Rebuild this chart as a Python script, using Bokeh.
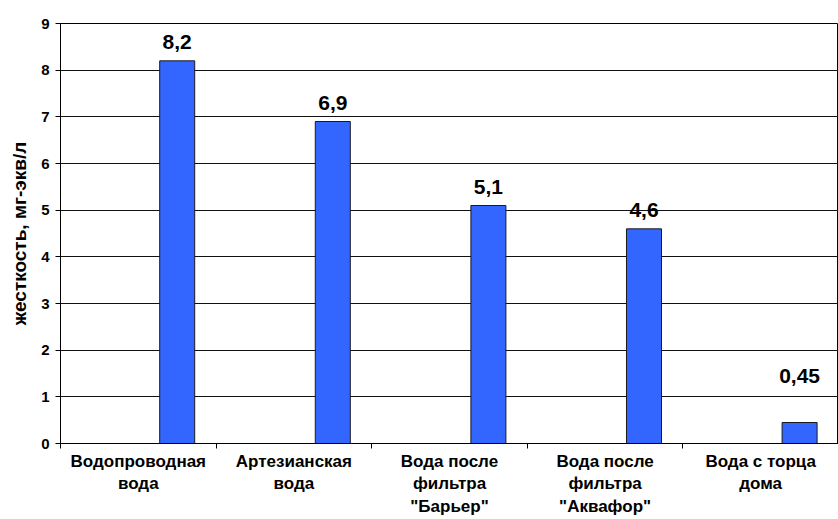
from bokeh.plotting import figure
from bokeh.models import Range1d, FixedTicker, ColumnDataSource
from bokeh.transform import dodge
from bokeh.core.properties import value
from bokeh.embed import file_html
from bokeh.resources import INLINE

# ---- data ----
categories = [
    "Водопроводная\nвода",
    "Артезианская\nвода",
    "Вода после\nфильтра\n\"Барьер\"",
    "Вода после\nфильтра\n\"Аквафор\"",
    "Вода с торца\nдома",
]
hardness = [8.2, 6.9, 5.1, 4.6, 0.45]
value_labels = ["8,2", "6,9", "5,1", "4,6", "0,45"]
y_ticks = [0, 1, 2, 3, 4, 5, 6, 7, 8, 9]
y_title = "жесткость, мг-экв/л"

# ---- style ----
FONT = "Liberation Sans"
BAR_COLOR = "#3366FF"
n = len(categories)
slot = list(range(n))                     # category slot index

# label lifts in screen px (the last label sits higher in the original)
label_lift = [-12, -12, -12, -12, -40]

src = ColumnDataSource(dict(slot=slot, hardness=hardness,
                            label=value_labels, yoff=label_lift))

p = figure(width=838, height=519,
           x_range=Range1d(0, n),
           y_range=Range1d(0, 9),
           output_backend="svg", toolbar_location=None,
           x_axis_location="below", y_axis_location="left",
           min_border_left=60, min_border_right=0,
           min_border_top=23, min_border_bottom=76,
           background_fill_color="white", border_fill_color="white",
           outline_line_color="black", outline_line_width=1)

p.xgrid.visible = False

yt = FixedTicker(ticks=y_ticks)
p.yaxis.ticker = yt
p.ygrid.ticker = yt
p.ygrid.grid_line_color = "#111111"
p.ygrid.grid_line_width = 1

ya = p.yaxis[0]
ya.axis_label = y_title
ya.axis_label_text_font = FONT
ya.axis_label_text_font_style = "bold"
ya.axis_label_text_font_size = "19px"
ya.axis_label_text_color = "black"
ya.axis_label_standoff = 8
ya.major_label_text_font = FONT
ya.major_label_text_font_style = "bold"
ya.major_label_text_font_size = "15px"
ya.major_label_text_color = "black"
ya.major_label_standoff = 6
ya.major_tick_out = 5
ya.major_tick_in = 0
ya.minor_tick_line_color = None
ya.axis_line_color = "black"
ya.major_tick_line_color = "black"

# bottom axis: ticks at slot boundaries, labels at slot centres
centers = [s + 0.5 for s in slot]
xa = p.xaxis[0]
xa.ticker = FixedTicker(ticks=centers, minor_ticks=slot + [n])
xa.major_label_overrides = {c: lab for c, lab in zip(centers, categories)}
xa.major_tick_line_color = None
xa.major_tick_out = 0
xa.major_tick_in = 0
xa.minor_tick_out = 5
xa.minor_tick_in = 0
xa.minor_tick_line_color = "black"
xa.axis_line_color = "black"
xa.major_label_text_font = FONT
xa.major_label_text_font_style = "bold"
xa.major_label_text_font_size = "17px"
xa.major_label_text_color = "black"
xa.major_label_text_line_height = 1.2
xa.major_label_standoff = 3

xpos = dodge("slot", 0.75)
p.vbar(x=xpos, top="hardness", width=0.225, source=src,
       fill_color=BAR_COLOR, line_color="#1a1a1a", line_width=1)

p.text(x=xpos, y="hardness", text="label", source=src,
       text_align="center", text_baseline="bottom", y_offset="yoff",
       text_font=value(FONT), text_font_style="bold",
       text_font_size="21px", text_color="black")

open("out.html", "w").write(file_html(p, INLINE))
